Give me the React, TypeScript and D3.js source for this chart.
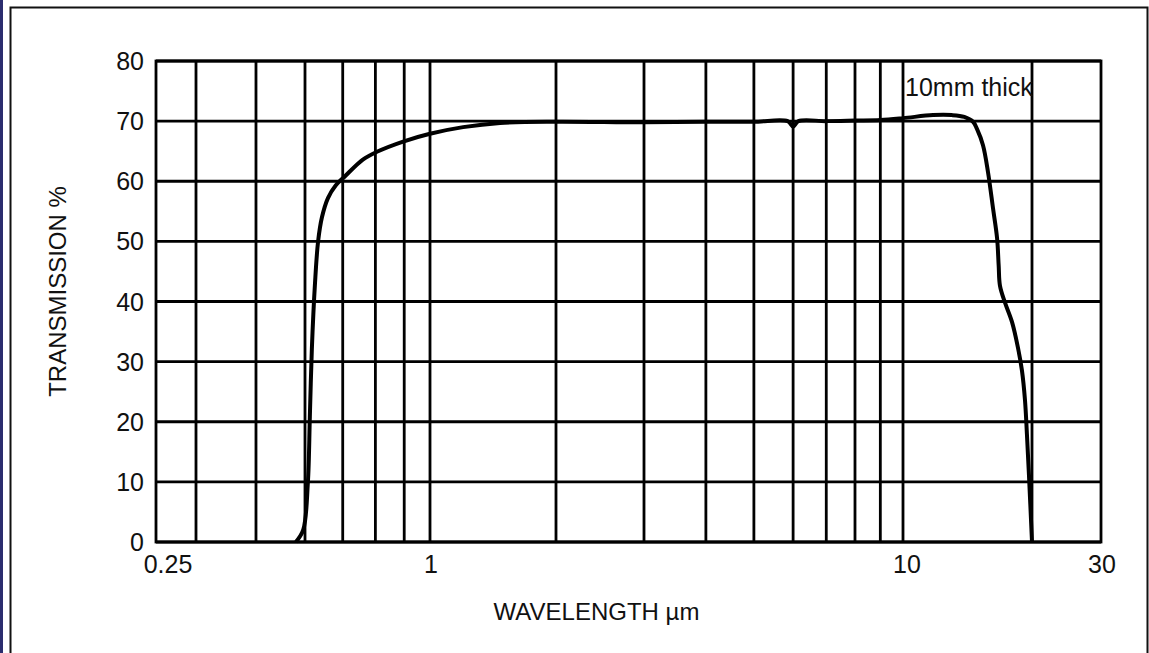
import React, { useEffect, useRef } from 'react';
import * as d3 from 'd3';

// transmission curve (wavelength in µm, transmission in %)
const wavelength = [
  0.58, 0.596, 0.607, 0.612, 0.617, 0.625, 0.633, 0.643, 0.659, 0.68, 0.706, 0.76, 0.805, 0.896,
  1.0, 1.2, 1.47, 2.0, 3.0, 4.0, 5.0, 5.85, 6.0, 6.15, 7, 8, 9, 10, 11.75, 13.0, 13.9, 14.57,
  14.88, 15.37, 15.79, 16.22, 16.58, 16.72, 16.84, 17.3, 17.96, 18.55, 18.95, 19.26, 19.46, 19.68, 20
];
const transmission = [
  0, 2, 9.8, 20.8, 32, 43, 50, 54, 57.2, 59.3, 60.8, 63.6, 64.9, 66.6,
  67.9, 69.0, 69.7, 69.9, 69.8, 69.9, 69.9, 70, 69.1, 70, 70, 70.1, 70.2, 70.5, 71, 71, 70.7, 69.9,
  68.7, 66, 61.5, 55.5, 50.5, 46, 42.6, 39.8, 36.6, 32.3, 28.5, 23.6, 18, 11, 0
];

const xGrid = [0.4, 0.5, 0.6, 0.7, 0.8, 0.9, 1, 2, 3, 4, 5, 6, 7, 8, 9, 10, 20];
const xTickLabels = [0.25, 1, 10, 30];
const yTicks = [0, 10, 20, 30, 40, 50, 60, 70, 80];

const font = '"Liberation Sans", Arial, sans-serif';

function App() {
  const ref = useRef<SVGSVGElement | null>(null);

  useEffect(() => {
    const svg = d3.select(ref.current);
    svg.selectAll('*').remove();

    const W = 1149, H = 653;
    const left = 156, right = 1101, top = 61, bottom = 542;

    // the printed axis is not a clean log scale, so use a piecewise log scale
    const x = d3.scaleLog()
      .domain([0.25, 0.4, 0.6, 1, 2, 3, 10, 20, 30])
      .range([left, 196, 305, 430, 556, 644, 903, 1032, right]);
    const y = d3.scaleLinear().domain([0, 80]).range([bottom, top]);

    // page frame
    svg.append('rect').attr('x', 0).attr('y', 0).attr('width', W).attr('height', H).attr('fill', '#fff');
    svg.append('rect').attr('x', 0).attr('y', 0).attr('width', 3).attr('height', H).attr('fill', '#2b2d6e');
    svg.append('path')
      .attr('d', `M10.5,${H}V7.5H1147.5V${H}`)
      .attr('fill', 'none').attr('stroke', '#111').attr('stroke-width', 2);

    // grid
    const grid = svg.append('g').attr('stroke', '#000').attr('stroke-width', 2.8);
    grid.selectAll('line.v').data(xGrid).join('line')
      .attr('class', 'v')
      .attr('x1', d => x(d)).attr('x2', d => x(d))
      .attr('y1', top).attr('y2', bottom);
    grid.selectAll('line.h').data(yTicks).join('line')
      .attr('class', 'h')
      .attr('x1', left).attr('x2', right)
      .attr('y1', d => y(d)).attr('y2', d => y(d));
    grid.append('rect')
      .attr('x', left).attr('y', top)
      .attr('width', right - left).attr('height', bottom - top)
      .attr('fill', 'none');

    // curve
    const pts = wavelength.map((w, i) => [x(w), y(transmission[i])] as [number, number]);
    svg.append('path')
      .attr('d', d3.line().curve(d3.curveCatmullRom.alpha(0.5))(pts))
      .attr('fill', 'none')
      .attr('stroke', '#000')
      .attr('stroke-width', 4)
      .attr('stroke-linejoin', 'round');

    // y tick labels
    svg.append('g').selectAll('text').data(yTicks).join('text')
      .attr('x', left - 12)
      .attr('y', d => y(d) + 9)
      .attr('text-anchor', 'end')
      .style('font-family', font)
      .style('font-size', '25px')
      .attr('fill', '#111')
      .text(d => d);

    // x tick labels
    svg.append('g').selectAll('text').data(xTickLabels).join('text')
      .attr('x', d => d === 0.25 ? x(d) + 12 : (d === 10 ? x(d) + 4 : x(d) + 1))
      .attr('y', 573)
      .attr('text-anchor', 'middle')
      .style('font-family', font)
      .style('font-size', '25px')
      .attr('fill', '#111')
      .text(d => d);

    // axis titles
    svg.append('text')
      .attr('x', (left + right) / 2 - 32)
      .attr('y', 620)
      .attr('text-anchor', 'middle')
      .style('font-family', font)
      .style('font-size', '24px')
      .attr('fill', '#111')
      .text('WAVELENGTH µm');
    svg.append('text')
      .attr('transform', `translate(66,${(top + bottom) / 2 - 10}) rotate(-90)`)
      .attr('text-anchor', 'middle')
      .style('font-family', font)
      .style('font-size', '24px')
      .attr('fill', '#111')
      .text('TRANSMISSION %');

    // annotation
    svg.append('text')
      .attr('x', x(10) + 2)
      .attr('y', 96)
      .style('font-family', font)
      .style('font-size', '25px')
      .attr('fill', '#111')
      .text('10mm thick');
  });

  return (
    <svg ref={ref} width={1149} height={653}
      style={{ position: 'absolute', left: 0, top: 0, display: 'block' }} />
  );
}

export default App;
